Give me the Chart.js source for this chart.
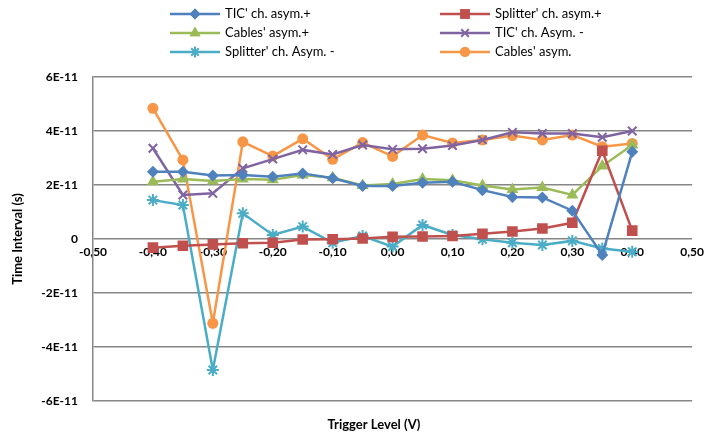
<!DOCTYPE html>
<html>
<head>
<meta charset="utf-8">
<script src="https://cdn.jsdelivr.net/npm/chart.js@4"></script>
<style>
  html, body { margin: 0; padding: 0; background: #fff; }
  #wrap { width: 710px; height: 439px; }
</style>
</head>
<body>
<div id="wrap"><canvas id="myChart" width="710" height="439"></canvas></div>
<script>
// trigger levels (V)
const triggerLevels = [-0.40, -0.35, -0.30, -0.25, -0.20, -0.15, -0.10, -0.05, 0.00, 0.05, 0.10, 0.15, 0.20, 0.25, 0.30, 0.35, 0.40];

// time intervals, in units of 1E-11 s
const ticAsymPlus      = [2.49, 2.49, 2.35, 2.37, 2.31, 2.43, 2.25, 1.96, 1.96, 2.08, 2.12, 1.81, 1.56, 1.54, 1.05, -0.59, 3.23];
const splitterAsymPlus = [-0.32, -0.25, -0.20, -0.16, -0.14, -0.02, -0.01, 0.02, 0.08, 0.09, 0.11, 0.19, 0.28, 0.39, 0.60, 3.27, 0.31];
const cablesAsymPlus   = [2.12, 2.22, 2.15, 2.22, 2.19, 2.37, 2.27, 1.98, 2.04, 2.22, 2.18, 1.98, 1.83, 1.91, 1.63, 2.70, 3.48];
const ticAsymMinus     = [3.36, 1.63, 1.69, 2.62, 2.96, 3.30, 3.13, 3.48, 3.32, 3.34, 3.46, 3.67, 3.95, 3.91, 3.91, 3.77, 4.00];
const splitterAsymMinus= [1.44, 1.26, -4.85, 0.95, 0.15, 0.46, -0.14, 0.11, -0.28, 0.52, 0.15, -0.01, -0.14, -0.22, -0.07, -0.35, -0.47];
const cablesAsym       = [4.84, 2.93, -3.12, 3.60, 3.07, 3.71, 2.95, 3.57, 3.06, 3.85, 3.56, 3.67, 3.83, 3.67, 3.85, 3.42, 3.54];

const seriesNames = ["TIC' ch. asym.+", "Splitter' ch. asym.+", "Cables' asym.+", "TIC' ch. Asym. -", "Splitter' ch. Asym. -", "Cables' asym."];

const FONT = "Lato, 'DejaVu Sans', sans-serif";

const toPoints = (vals) => vals.map((v, i) => ({ x: triggerLevels[i], y: v }));

function makeSeries(label, vals, color, style, radius) {
  const stroked = style === 'crossRot' || style === 'star';
  return {
    label: label,
    data: toPoints(vals),
    showLine: true,
    borderColor: color,
    backgroundColor: color,
    borderWidth: 2.5,
    pointStyle: style,
    pointRadius: radius,
    pointBorderWidth: stroked ? 2 : 0,
    pointBackgroundColor: color,
    pointBorderColor: color,
    tension: 0
  };
}

// Draws the two-column legend and both axis titles
const extrasPlugin = {
  id: 'extras',
  afterDraw(chart) {
    const ctx = chart.ctx;
    ctx.save();
    const cols = [170, 440];
    const rows = [14, 33, 52];
    chart.data.datasets.forEach((ds, i) => {
      const x = cols[i % 2];
      const y = rows[Math.floor(i / 2)];
      ctx.strokeStyle = ds.borderColor;
      ctx.fillStyle = ds.borderColor;
      ctx.lineWidth = 2.5;
      ctx.beginPath();
      ctx.moveTo(x, y);
      ctx.lineTo(x + 50, y);
      ctx.stroke();
      ctx.lineWidth = ds.pointBorderWidth || 1;
      Chart.helpers.drawPoint(ctx, {
        pointStyle: ds.pointStyle,
        radius: ds.pointRadius * 0.9,
        rotation: 0,
        borderWidth: ds.pointBorderWidth
      }, x + 25, y);
      if (!ds.pointBorderWidth) ctx.fill();
      ctx.fillStyle = '#000';
      ctx.font = "13px " + FONT;
      ctx.textBaseline = 'middle';
      ctx.textAlign = 'left';
      ctx.fillText(ds.label, x + 55, y);
    });
    // x axis title
    ctx.font = "bold 13px " + FONT;
    ctx.fillStyle = '#000';
    ctx.textAlign = 'center';
    ctx.textBaseline = 'middle';
    ctx.fillText('Trigger Level (V)', 374, 425);
    // y axis title
    ctx.translate(18, 239);
    ctx.rotate(-Math.PI / 2);
    ctx.fillText('Time Interval (s)', 0, 0);
    ctx.restore();
  }
};

const ctx = document.getElementById("myChart").getContext("2d");
const chart = new Chart(ctx, {
  type: 'scatter',
  data: {
    datasets: [
      makeSeries(seriesNames[0], ticAsymPlus, '#4F81BD', 'rectRot', 6),
      makeSeries(seriesNames[1], splitterAsymPlus, '#C0504D', 'rect', 7.5),
      makeSeries(seriesNames[2], cablesAsymPlus, '#9BBB59', 'triangle', 7),
      makeSeries(seriesNames[3], ticAsymMinus, '#8064A2', 'crossRot', 6),
      makeSeries(seriesNames[4], splitterAsymMinus, '#4BACC6', 'star', 6),
      makeSeries(seriesNames[5], cablesAsym, '#F79646', 'circle', 5.5)
    ]
  },
  options: {
    responsive: false,
    animation: false,
    layout: { padding: { top: 77, left: 0, right: 13, bottom: 38 } },
    plugins: {
      legend: { display: false },
      tooltip: { enabled: false }
    },
    scales: {
      x: {
        type: 'linear',
        min: -0.5,
        max: 0.5,
        position: { y: 0 },
        grid: { display: false, drawTicks: false },
        border: { display: false },
        ticks: {
          stepSize: 0.1,
          autoSkip: false,
          maxRotation: 0,
          padding: 6,
          color: '#000',
          font: { family: FONT, size: 12, weight: 'bold' },
          callback: (v) => (Math.abs(v) < 1e-9 ? 0 : v).toFixed(2).replace('.', ',')
        }
      },
      y: {
        min: -6,
        max: 6,
        afterFit: (scale) => { scale.width = 93; },
        grid: { color: '#868686', lineWidth: 1.5, drawTicks: false },
        border: { color: '#868686', width: 1.5 },
        ticks: {
          stepSize: 2,
          padding: 15,
          color: '#000',
          font: { family: FONT, size: 12, weight: 'bold' },
          callback: (v) => v === 0 ? '0' : Math.round(v) + 'E-11'
        }
      }
    }
  },
  plugins: [extrasPlugin]
});
</script>
</body>
</html>
